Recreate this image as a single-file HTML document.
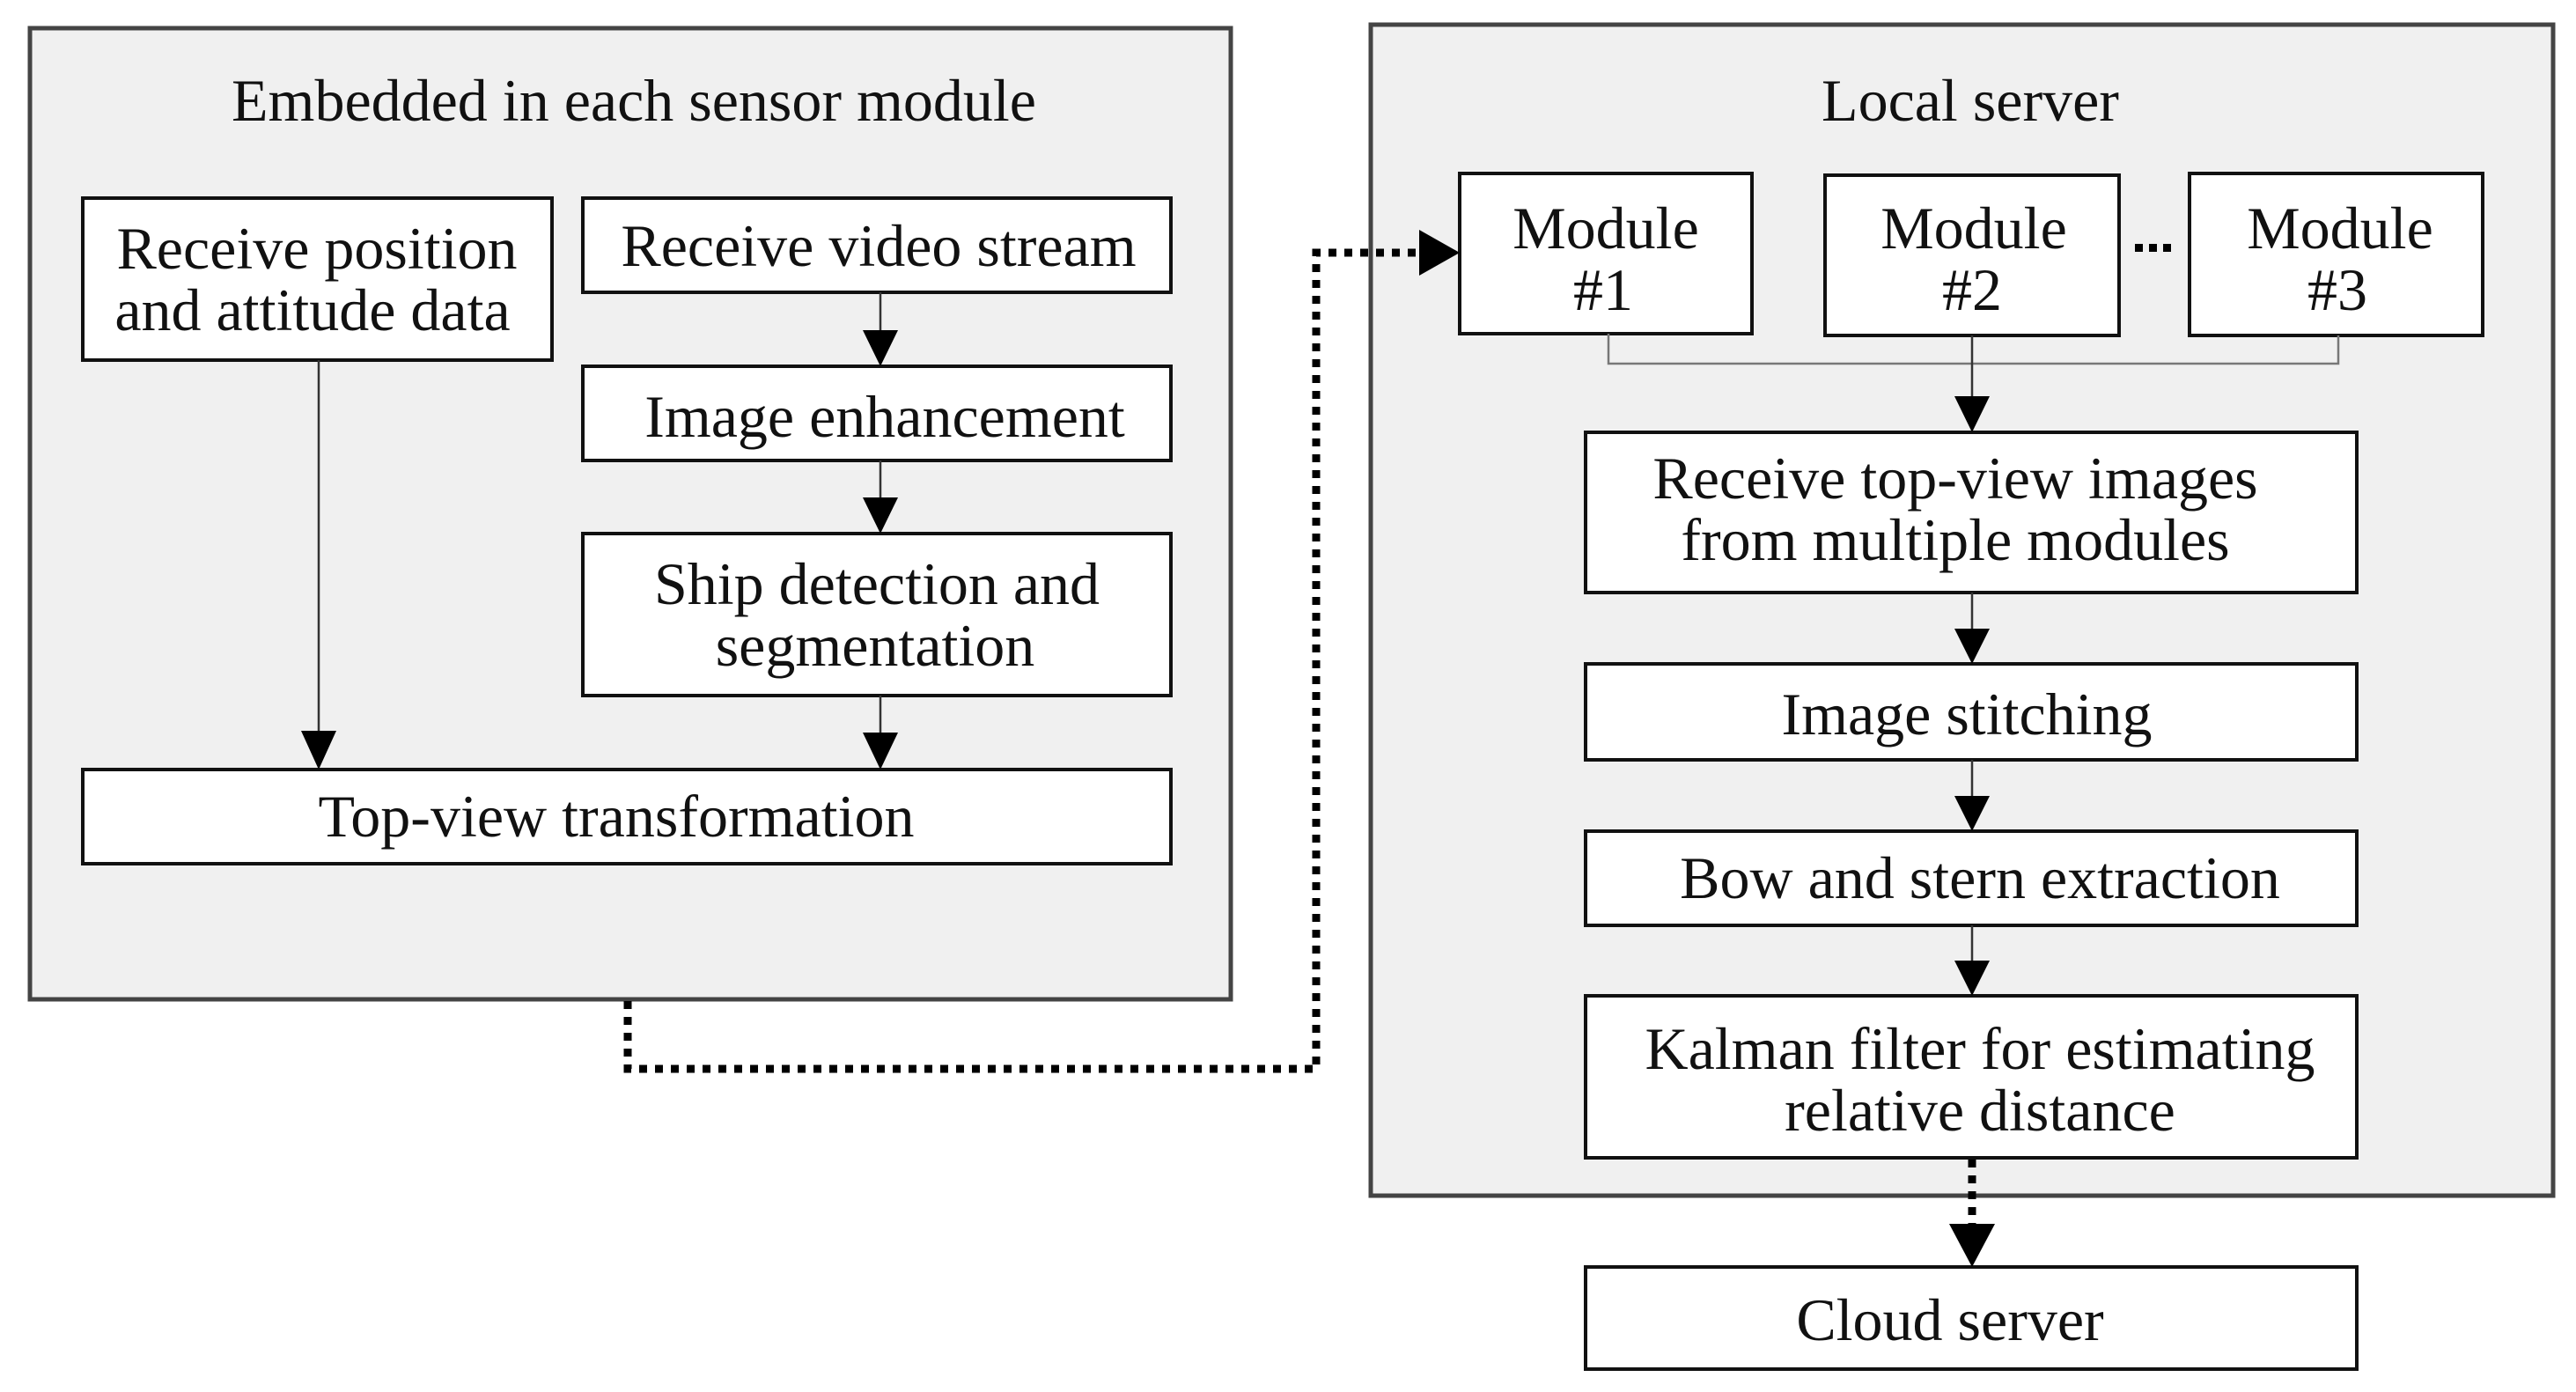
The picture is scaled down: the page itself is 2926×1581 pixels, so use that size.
<!DOCTYPE html>
<html><head><meta charset="utf-8"><style>
html,body{margin:0;padding:0;background:#fff}
svg{display:block}
text{font-family:"Liberation Serif",serif;font-size:68px;fill:#111;text-anchor:middle}
</style></head><body>
<svg width="2926" height="1581" viewBox="0 0 2926 1581" xmlns="http://www.w3.org/2000/svg">
<defs>
<marker id="a" markerWidth="10" markerHeight="10" refX="10" refY="5" orient="auto" markerUnits="userSpaceOnUse" viewBox="0 0 10 10"><path d="M0,0 L10,5 L0,10 z" fill="#000"/></marker>
</defs>
<!-- outer groups -->
<rect x="34" y="32" width="1364" height="1103" fill="#f0f0f0" stroke="#444" stroke-width="5"/>
<rect x="1557" y="28" width="1343" height="1330" fill="#f0f0f0" stroke="#444" stroke-width="5"/>
<text x="720" y="137">Embedded in each sensor module</text>
<text x="2238" y="137">Local server</text>

<g fill="#fff" stroke="#111" stroke-width="4">
<rect x="94" y="225" width="533" height="184"/>
<rect x="662" y="225" width="668" height="107"/>
<rect x="662" y="416" width="668" height="107"/>
<rect x="662" y="606" width="668" height="184"/>
<rect x="94" y="874" width="1236" height="107"/>
<rect x="1658" y="197" width="332" height="182"/>
<rect x="2073" y="199" width="334" height="182"/>
<rect x="2487" y="197" width="333" height="184"/>
<rect x="1801" y="491" width="876" height="182"/>
<rect x="1801" y="754" width="876" height="109"/>
<rect x="1801" y="944" width="876" height="107"/>
<rect x="1801" y="1131" width="876" height="184"/>
<rect x="1801" y="1439" width="876" height="116"/>
</g>

<!-- solid arrows -->
<g stroke="#333" stroke-width="2.5" fill="none">
<line x1="362" y1="409" x2="362" y2="830"/>
<line x1="1000" y1="332" x2="1000" y2="375"/>
<line x1="1000" y1="523" x2="1000" y2="565"/>
<line x1="1000" y1="790" x2="1000" y2="832"/>
<polyline points="1827,379 1827,413 2656,413 2656,381" stroke="#777"/>
<line x1="2240" y1="381" x2="2240" y2="450"/>
<line x1="2240" y1="673" x2="2240" y2="714"/>
<line x1="2240" y1="863" x2="2240" y2="904"/>
<line x1="2240" y1="1051" x2="2240" y2="1091"/>
</g>
<g fill="#000">
<path d="M342,830 L382,830 L362,874 z"/>
<path d="M980,375 L1020,375 L1000,416 z"/>
<path d="M980,565 L1020,565 L1000,606 z"/>
<path d="M980,832 L1020,832 L1000,874 z"/>
<path d="M2220,450 L2260,450 L2240,491 z"/>
<path d="M2220,714 L2260,714 L2240,754 z"/>
<path d="M2220,904 L2260,904 L2240,944 z"/>
<path d="M2220,1091 L2260,1091 L2240,1131 z"/>
<path d="M2214,1390 L2266,1390 L2240,1439 z"/>
<path d="M1612,261 L1658,287 L1612,313 z"/>
</g>
<!-- dotted -->
<g stroke="#000" stroke-width="9" fill="none" stroke-dasharray="9,9">
<polyline points="713,1137 713,1214 1495,1214 1495,287 1612,287"/>
<line x1="2240" y1="1317" x2="2240" y2="1390"/>
</g>
<!-- ellipsis dots -->
<g fill="#000"><rect x="2425" y="277" width="9" height="9"/><rect x="2441" y="277" width="9" height="9"/><rect x="2457" y="277" width="9" height="9"/></g>

<text x="360" y="305">Receive position</text>
<text x="355" y="375">and attitude data</text>
<text x="998" y="302">Receive video stream</text>
<text x="1005" y="496">Image enhancement</text>
<text x="996" y="686">Ship detection and</text>
<text x="994" y="756">segmentation</text>
<text x="700" y="950">Top-view transformation</text>
<text x="1824" y="282">Module</text>
<text x="1821" y="352">#1</text>
<text x="2242" y="282">Module</text>
<text x="2240" y="352">#2</text>
<text x="2658" y="282">Module</text>
<text x="2655" y="352">#3</text>
<text x="2221" y="566">Receive top-view images</text>
<text x="2221" y="636">from multiple modules</text>
<text x="2234" y="834">Image stitching</text>
<text x="2249" y="1020">Bow and stern extraction</text>
<text x="2249" y="1214">Kalman filter for estimating</text>
<text x="2249" y="1284">relative distance</text>
<text x="2215" y="1522">Cloud server</text>
</svg>
</body></html>
